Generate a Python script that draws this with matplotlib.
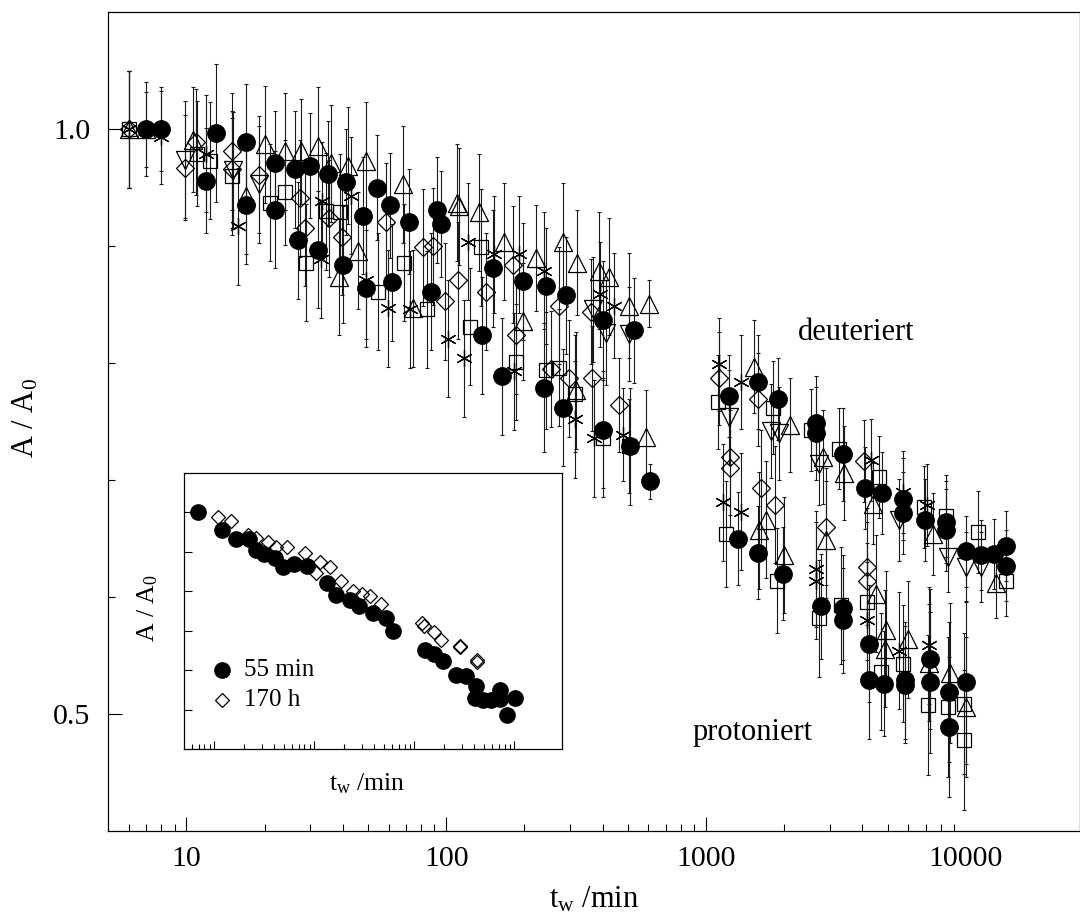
import matplotlib
matplotlib.use("Agg")
import matplotlib.pyplot as plt
from matplotlib.path import Path
from matplotlib.ticker import NullFormatter, FixedLocator

plt.rcParams['font.family'] = ['Liberation Serif', 'DejaVu Serif']
plt.rcParams['mathtext.fontset'] = 'custom'
plt.rcParams['mathtext.rm'] = 'Liberation Serif'
plt.rcParams['mathtext.it'] = 'Liberation Serif:italic'

# ---------------- main chart data ----------------
circ_x = [7, 8, 11.9, 13, 16.9, 16.9, 22, 22, 26.1, 26.8, 30, 32, 35, 40, 41, 47.8, 49, 54, 60.8, 62,
          71.8, 87, 92, 95.6, 137, 152, 164, 198, 237, 243, 281, 289, 400, 403, 510, 527, 610,
          1229, 1579, 1897, 2649, 2649, 3381, 4100, 4753, 5745, 5745, 6975, 8420, 8420, 10000, 11420, 12860, 14330, 14330,
          1323, 1579, 1971, 2768, 3378, 3378, 4250, 4250, 4850, 5822, 5822, 7270, 7270, 8630, 8630, 10000]
circ_y = [1.0, 1.0, 0.956, 0.997, 0.989, 0.935, 0.971, 0.931, 0.966, 0.905, 0.969, 0.897, 0.962, 0.884, 0.955, 0.926, 0.864, 0.950, 0.935, 0.869,
          0.921, 0.861, 0.931, 0.919, 0.824, 0.881, 0.789, 0.870, 0.779, 0.866, 0.762, 0.858, 0.743, 0.837, 0.729, 0.828, 0.699,
          0.772, 0.784, 0.769, 0.749, 0.740, 0.722, 0.693, 0.689, 0.684, 0.672, 0.666, 0.664, 0.657, 0.639, 0.636, 0.637, 0.644, 0.627,
          0.650, 0.638, 0.620, 0.592, 0.591, 0.580, 0.560, 0.529, 0.526, 0.529, 0.525, 0.547, 0.527, 0.519, 0.489, 0.527]
circ_e = [0.032, 0.036, 0.045, 0.059, 0.05, 0.05, 0.045, 0.05, 0.05, 0.05, 0.045, 0.05, 0.045, 0.05, 0.045, 0.05, 0.05, 0.045, 0.045, 0.05,
          0.045, 0.05, 0.045, 0.045, 0.05, 0.05, 0.05, 0.05, 0.055, 0.05, 0.05, 0.05, 0.05, 0.05, 0.05, 0.045, 0.015,
          0.035, 0.04, 0.035, 0.04, 0.04, 0.04, 0.035, 0.035, 0.035, 0.035, 0.035, 0.035, 0.035, 0.03, 0.03, 0.03, 0.03, 0.03,
          0.04, 0.04, 0.04, 0.045, 0.045, 0.045, 0.05, 0.05, 0.045, 0.05, 0.05, 0.06, 0.06, 0.06, 0.06, 0.07]

triu_x = [6, 7, 10.6, 16.9, 20, 23.9, 27.7, 32, 36, 38.8, 41.8, 45.7, 49, 68, 74.5, 110, 112, 133.5, 167, 198,
          222, 281, 316, 319, 387, 422, 507, 587, 601,
          1535, 2106, 2813, 3404, 4374, 7448, 13040,
          1600, 1701, 2000, 2895, 4510, 4923, 4900, 5967, 7200, 8670, 10060]
triu_y = [1.0, 1.0, 0.991, 0.943, 0.987, 0.981, 0.981, 0.986, 0.971, 0.874, 0.969, 0.896, 0.973, 0.953, 0.847, 0.937, 0.934, 0.929, 0.904, 0.836,
          0.890, 0.904, 0.777, 0.886, 0.879, 0.874, 0.849, 0.737, 0.851,
          0.797, 0.747, 0.720, 0.706, 0.680, 0.654, 0.612,
          0.657, 0.666, 0.636, 0.649, 0.603, 0.572, 0.556, 0.564, 0.544, 0.535, 0.506]
triu_e = [0.05, 0.04, 0.045, 0.05, 0.05, 0.05, 0.045, 0.05, 0.05, 0.05, 0.05, 0.05, 0.05, 0.05, 0.05, 0.05, 0.05, 0.05, 0.05, 0.05,
          0.045, 0.05, 0.05, 0.045, 0.05, 0.05, 0.045, 0.04, 0.02,
          0.04, 0.04, 0.04, 0.04, 0.035, 0.035, 0.03,
          0.05, 0.05, 0.05, 0.05, 0.05, 0.05, 0.05, 0.05, 0.05, 0.06, 0.06]

sq_x = [6, 11, 12.3, 15, 21, 24, 28.9, 34.5, 38.9, 54.5, 69, 84.5, 123, 136, 185, 243, 271, 312, 403, 507,
        1108, 1803, 2535, 3260, 4645, 6920, 8380, 11170, 14260,
        1194, 1876, 2713, 3318, 4150, 4710, 5708, 7180, 8570, 9850, 9850]
sq_y = [1.0, 0.979, 0.973, 0.960, 0.937, 0.946, 0.886, 0.930, 0.929, 0.861, 0.886, 0.846, 0.831, 0.899, 0.801, 0.794, 0.796, 0.774, 0.736, 0.729,
        0.767, 0.762, 0.743, 0.727, 0.703, 0.677, 0.669, 0.656, 0.614,
        0.654, 0.614, 0.582, 0.593, 0.596, 0.536, 0.543, 0.508, 0.506, 0.509, 0.478]
sq_e = [0.05, 0.045, 0.05, 0.05, 0.05, 0.045, 0.05, 0.05, 0.05, 0.05, 0.05, 0.05, 0.05, 0.05, 0.05, 0.05, 0.05, 0.05, 0.05, 0.04,
        0.04, 0.04, 0.035, 0.035, 0.035, 0.035, 0.035, 0.035, 0.03,
        0.045, 0.045, 0.05, 0.05, 0.05, 0.05, 0.05, 0.06, 0.06, 0.06, 0.06]

dia_x = [6, 9.9, 10.9, 15, 15, 19, 27.3, 28.5, 35.4, 39.8, 58.4, 81.3, 88.9, 98.5, 111, 142, 180, 186, 253, 271,
         298, 361, 364, 464,
         1118, 1579, 4064,
         1236, 1236, 1627, 1847, 2895, 4165, 4165]
dia_y = [1.0, 0.967, 0.989, 0.981, 0.966, 0.961, 0.941, 0.916, 0.924, 0.908, 0.921, 0.899, 0.900, 0.853, 0.871, 0.861, 0.884, 0.824, 0.795, 0.849,
         0.787, 0.844, 0.787, 0.764,
         0.787, 0.769, 0.716,
         0.720, 0.710, 0.693, 0.679, 0.660, 0.626, 0.614]
dia_e = [0.05, 0.045, 0.045, 0.05, 0.05, 0.05, 0.05, 0.05, 0.05, 0.05, 0.05, 0.05, 0.05, 0.05, 0.05, 0.05, 0.05, 0.05, 0.05, 0.05,
         0.05, 0.045, 0.045, 0.04,
         0.04, 0.04, 0.035,
         0.05, 0.05, 0.05, 0.05, 0.05, 0.05, 0.05]

ast_x = [6, 8, 11.9, 15.8, 33.0, 33.3, 43, 49, 59.6, 72.4, 102, 116.6, 121, 153, 183, 191, 237, 312, 372, 389,
         443, 478,
         1125, 1363, 4315, 5708, 7118,
         1158, 1363, 2649, 2649, 4150, 5550, 7200]
ast_y = [1.0, 0.993, 0.979, 0.917, 0.889, 0.939, 0.943, 0.871, 0.847, 0.846, 0.821, 0.804, 0.904, 0.893, 0.793, 0.893, 0.879, 0.752, 0.736, 0.859,
         0.849, 0.739,
         0.799, 0.784, 0.717, 0.690, 0.679,
         0.681, 0.673, 0.624, 0.614, 0.580, 0.554, 0.559]
ast_e = [0.05, 0.04, 0.05, 0.05, 0.05, 0.05, 0.05, 0.05, 0.05, 0.05, 0.05, 0.05, 0.05, 0.05, 0.05, 0.05, 0.05, 0.05, 0.05, 0.045,
         0.045, 0.04,
         0.04, 0.04, 0.035, 0.035, 0.035,
         0.05, 0.05, 0.05, 0.05, 0.05, 0.05, 0.05]

trid_x = [9.85, 15.1, 19, 366, 412, 505,
          1229, 1778, 1916, 2730, 5550, 8570, 10000, 11420]
trid_y = [0.974, 0.965, 0.953, 0.846, 0.826, 0.825,
          0.754, 0.742, 0.740, 0.714, 0.666, 0.634, 0.626, 0.626]
trid_e = [0.05, 0.05, 0.05, 0.045, 0.045, 0.04,
          0.04, 0.04, 0.04, 0.035, 0.035, 0.03, 0.03, 0.03]

# ---------------- inset data ----------------
in55_x = [6.9, 11.9, 16.7, 22.4, 26.1, 31.6, 40.5, 49, 62.7, 85, 133, 164, 228, 282, 389, 521, 608,
          1279, 1585, 1923, 2612, 3289, 4140, 4046, 4900, 5807, 7197, 7197, 8511, 10160]
in55_y = [1.0, 0.955, 0.933, 0.933, 0.905, 0.894, 0.885, 0.861, 0.869, 0.863, 0.822, 0.791, 0.779, 0.762, 0.745, 0.732, 0.699,
          0.652, 0.640, 0.623, 0.589, 0.585, 0.560, 0.530, 0.526, 0.526, 0.551, 0.528, 0.488, 0.530]
in170_x = [11, 14.9, 21.9, 26.1, 34.7, 41.4, 53.7, 80.7, 114, 104, 143.6, 185, 245, 298, 361, 465,
           1202, 1250, 1585, 1837, 2864, 2900, 4207, 4207]
in170_y = [0.987, 0.979, 0.943, 0.936, 0.924, 0.912, 0.913, 0.898, 0.875, 0.847, 0.861, 0.825, 0.800, 0.794, 0.789, 0.768,
           0.720, 0.711, 0.696, 0.677, 0.661, 0.659, 0.627, 0.620]

legend_labels = ["55 min", "170 h"]
x_major = [10, 100, 1000, 10000]
x_major_labels = ["10", "100", "1000", "10000"]
x_minor = [6, 7, 8, 9, 20, 30, 40, 50, 60, 70, 80, 90, 200, 300, 400, 500, 600, 700, 800, 900,
           2000, 3000, 4000, 5000, 6000, 7000, 8000, 9000]
y_major = [0.5, 1.0]
y_major_labels = ["0.5", "1.0"]
y_minor = [0.6, 0.7, 0.8, 0.9]
inset_y_ticks = [0.5, 0.6, 0.7, 0.8, 0.9, 1.0]

# ---------------- figure ----------------
W, H = 1080, 916
fig = plt.figure(figsize=(W / 100, H / 100), dpi=100)

def px_rect(l, t, r, b):
    return [l / W, 1 - b / H, (r - l) / W, (b - t) / H]

ax = fig.add_axes(px_rect(108.3, 12.3, 1079.5, 831))
ax.set_xscale('log')
ax.set_xlim(5, 27400)
ax.set_ylim(0.4, 1.1)

tri_up = Path([(-1, -1), (1, -1), (0, 1), (-1, -1)], closed=True)
tri_dn = Path([(-1, 1), (1, 1), (0, -1), (-1, 1)], closed=True)
ast_m = (6, 2, 0)

ecol = '#1a1a1a'
ekw = dict(fmt='none', ecolor=ecol, elinewidth=0.8, capsize=1.3, capthick=0.8)

series = [
    (sq_x, sq_y, sq_e, 's', 10.3, 'none'),
    (dia_x, dia_y, dia_e, 'D', 9.0, 'none'),
    (triu_x, triu_y, triu_e, tri_up, 13.0, 'none'),
    (trid_x, trid_y, trid_e, tri_dn, 13.0, 'none'),
    (ast_x, ast_y, ast_e, ast_m, 12.0, 'none'),
    (circ_x, circ_y, circ_e, 'o', 12.6, 'black'),
]
for xs, ys, es, mk, ms, fc in series:
    ax.errorbar(xs, ys, yerr=es, zorder=2, **ekw)
for xs, ys, es, mk, ms, fc in series:
    ax.plot(xs, ys, linestyle='none', marker=mk, markersize=ms,
            markerfacecolor=fc, markeredgecolor='black', markeredgewidth=0.9, zorder=3)

ax.xaxis.set_major_locator(FixedLocator(x_major))
ax.set_xticklabels(x_major_labels)
ax.xaxis.set_minor_locator(FixedLocator(x_minor))
ax.xaxis.set_minor_formatter(NullFormatter())
ax.yaxis.set_major_locator(FixedLocator(y_major))
ax.set_yticklabels(y_major_labels)
ax.yaxis.set_minor_locator(FixedLocator(y_minor))
ax.tick_params(which='both', direction='in', top=False, right=False, width=0.8, colors='black')
ax.tick_params(which='major', length=10, labelsize=21.5)
ax.tick_params(axis='x', which='major', pad=11)
ax.tick_params(axis='y', which='major', pad=13)
ax.tick_params(which='minor', length=5)
ax.xaxis.get_major_ticks()[3].tick1line.set_visible(False)
for sp in ax.spines.values():
    sp.set_linewidth(0.9)

fig.text(594 / W, 1 - 908 / H, r't$_\mathrm{w}$ /min', ha='center', va='baseline', fontsize=22)
fig.text(26 / W, 1 - 418 / H, r'A / A$_\mathrm{0}$', ha='center', va='center', rotation=90, fontsize=22)
fig.text(798 / W, 1 - 339.5 / H, 'deuteriert', ha='left', va='baseline', fontsize=22)
fig.text(693 / W, 1 - 740 / H, 'protoniert', ha='left', va='baseline', fontsize=22)

# ---------------- inset ----------------
ai = fig.add_axes(px_rect(184, 472.7, 561.7, 749.3))
ai.set_xscale('log')
ai.set_xlim(5, 29800)
ai.set_ylim(0.4, 1.1)
ai.plot(in55_x, in55_y, linestyle='none', marker='o', markersize=11, markerfacecolor='black',
        markeredgecolor='black', zorder=3)
ai.plot(in170_x, in170_y, linestyle='none', marker='D', markersize=6.8, markerfacecolor='none',
        markeredgecolor='black', markeredgewidth=0.9, zorder=3)
ai.xaxis.set_major_locator(FixedLocator(x_major))
ai.xaxis.set_minor_locator(FixedLocator(x_minor))
ai.xaxis.set_major_formatter(NullFormatter())
ai.xaxis.set_minor_formatter(NullFormatter())
ai.yaxis.set_major_locator(FixedLocator(inset_y_ticks))
ai.yaxis.set_major_formatter(NullFormatter())
ai.yaxis.set_minor_locator(FixedLocator([]))
ai.tick_params(which='both', direction='in', top=False, right=False, width=0.8)
ai.tick_params(which='major', length=6)
ai.tick_params(which='minor', length=3.5)
for sp in ai.spines.values():
    sp.set_linewidth(0.9)

# legend (manual placement)
lx = (221.7 - 184) / (561.7 - 184)
ly1 = 1 - (669.5 - 472.7) / (749.3 - 472.7)
ly2 = 1 - (700.3 - 472.7) / (749.3 - 472.7)
tx = (244 - 184) / (561.7 - 184)
ai.plot([lx], [ly1], transform=ai.transAxes, marker='o', markersize=11, color='black', linestyle='none', clip_on=False)
ai.plot([lx], [ly2], transform=ai.transAxes, marker='D', markersize=6.8, markerfacecolor='none',
        markeredgecolor='black', markeredgewidth=0.9, linestyle='none', clip_on=False)
ai.text(tx, ly1, legend_labels[0], transform=ai.transAxes, ha='left', va='center', fontsize=18)
ai.text(tx, ly2, legend_labels[1], transform=ai.transAxes, ha='left', va='center', fontsize=18)

fig.text(367 / W, 1 - 790 / H, r't$_\mathrm{w}$ /min', ha='center', va='baseline', fontsize=18.5)
fig.text(148 / W, 1 - 608 / H, r'A / A$_\mathrm{0}$', ha='center', va='center', rotation=90, fontsize=18.5)

fig.savefig('out.png', dpi=100)
